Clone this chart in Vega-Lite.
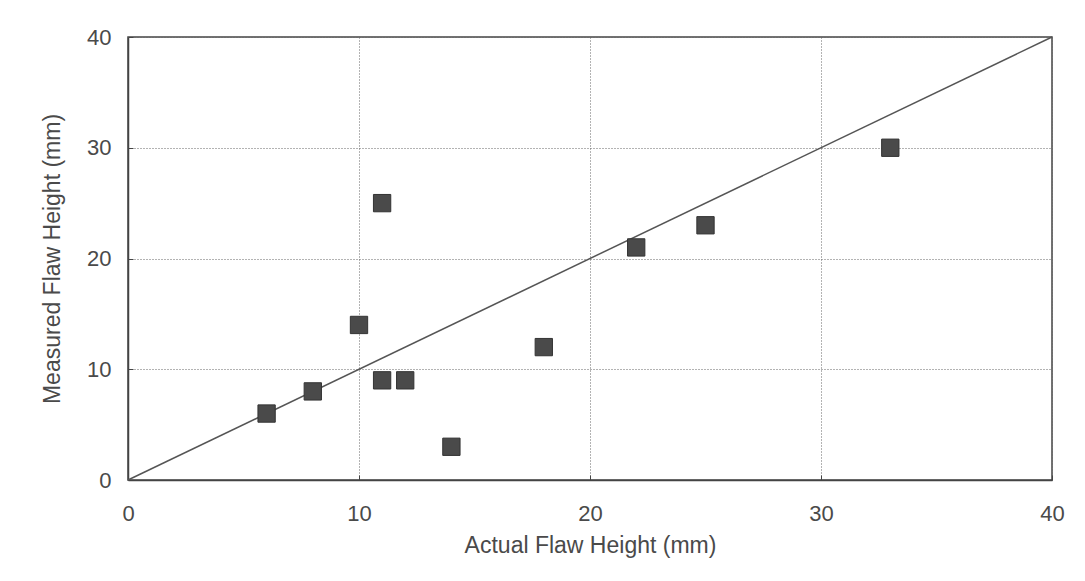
{
  "$schema": "https://vega.github.io/schema/vega-lite/v6.json",
  "width": 924,
  "height": 443,
  "autosize": {"type": "none"},
  "padding": {"left": 128, "top": 37, "right": 33, "bottom": 101},
  "background": "white",
  "config": {
    "view": {"stroke": "#444", "strokeWidth": 1.5},
    "font": "Liberation Sans",
    "axis": {
      "labelFont": "Liberation Sans",
      "titleFont": "Liberation Sans",
      "labelFontSize": 22,
      "titleFontSize": 23,
      "titleFontWeight": "normal",
      "labelColor": "#4a4a4a",
      "titleColor": "#4a4a4a",
      "labelFlush": false,
      "labelOverlap": false,
      "grid": true,
      "gridColor": "#666",
      "gridDash": [1, 2],
      "gridWidth": 1,
      "domainColor": "#444",
      "domainWidth": 1.5,
      "tickColor": "#444",
      "tickSize": -5
    }
  },
  "layer": [
    {
      "data": {"values": [{"a": 0, "m": 0}, {"a": 40, "m": 40}]},
      "mark": {"type": "line", "color": "#555", "strokeWidth": 1.5},
      "encoding": {
        "x": {"field": "a", "type": "quantitative", "scale": {"domain": [0, 40], "nice": false}, "axis": {"values": [0, 10, 20, 30, 40], "title": "Actual Flaw Height (mm)", "labelPadding": 28, "titlePadding": 10}},
        "y": {"field": "m", "type": "quantitative", "scale": {"domain": [0, 40], "nice": false}, "axis": {"values": [0, 10, 20, 30, 40], "title": "Measured Flaw Height (mm)", "labelPadding": 22, "titlePadding": 22}}
      }
    },
    {
      "data": {"values": [
        {"a": 6, "m": 6}, {"a": 8, "m": 8}, {"a": 10, "m": 14}, {"a": 11, "m": 25},
        {"a": 11, "m": 9}, {"a": 12, "m": 9}, {"a": 14, "m": 3}, {"a": 18, "m": 12},
        {"a": 22, "m": 21}, {"a": 25, "m": 23}, {"a": 33, "m": 30}
      ]},
      "mark": {"type": "square", "size": 300, "filled": true, "color": "#4a4a4a", "stroke": "#333", "strokeWidth": 1, "opacity": 1},
      "encoding": {
        "x": {"field": "a", "type": "quantitative"},
        "y": {"field": "m", "type": "quantitative"}
      }
    }
  ]
}
